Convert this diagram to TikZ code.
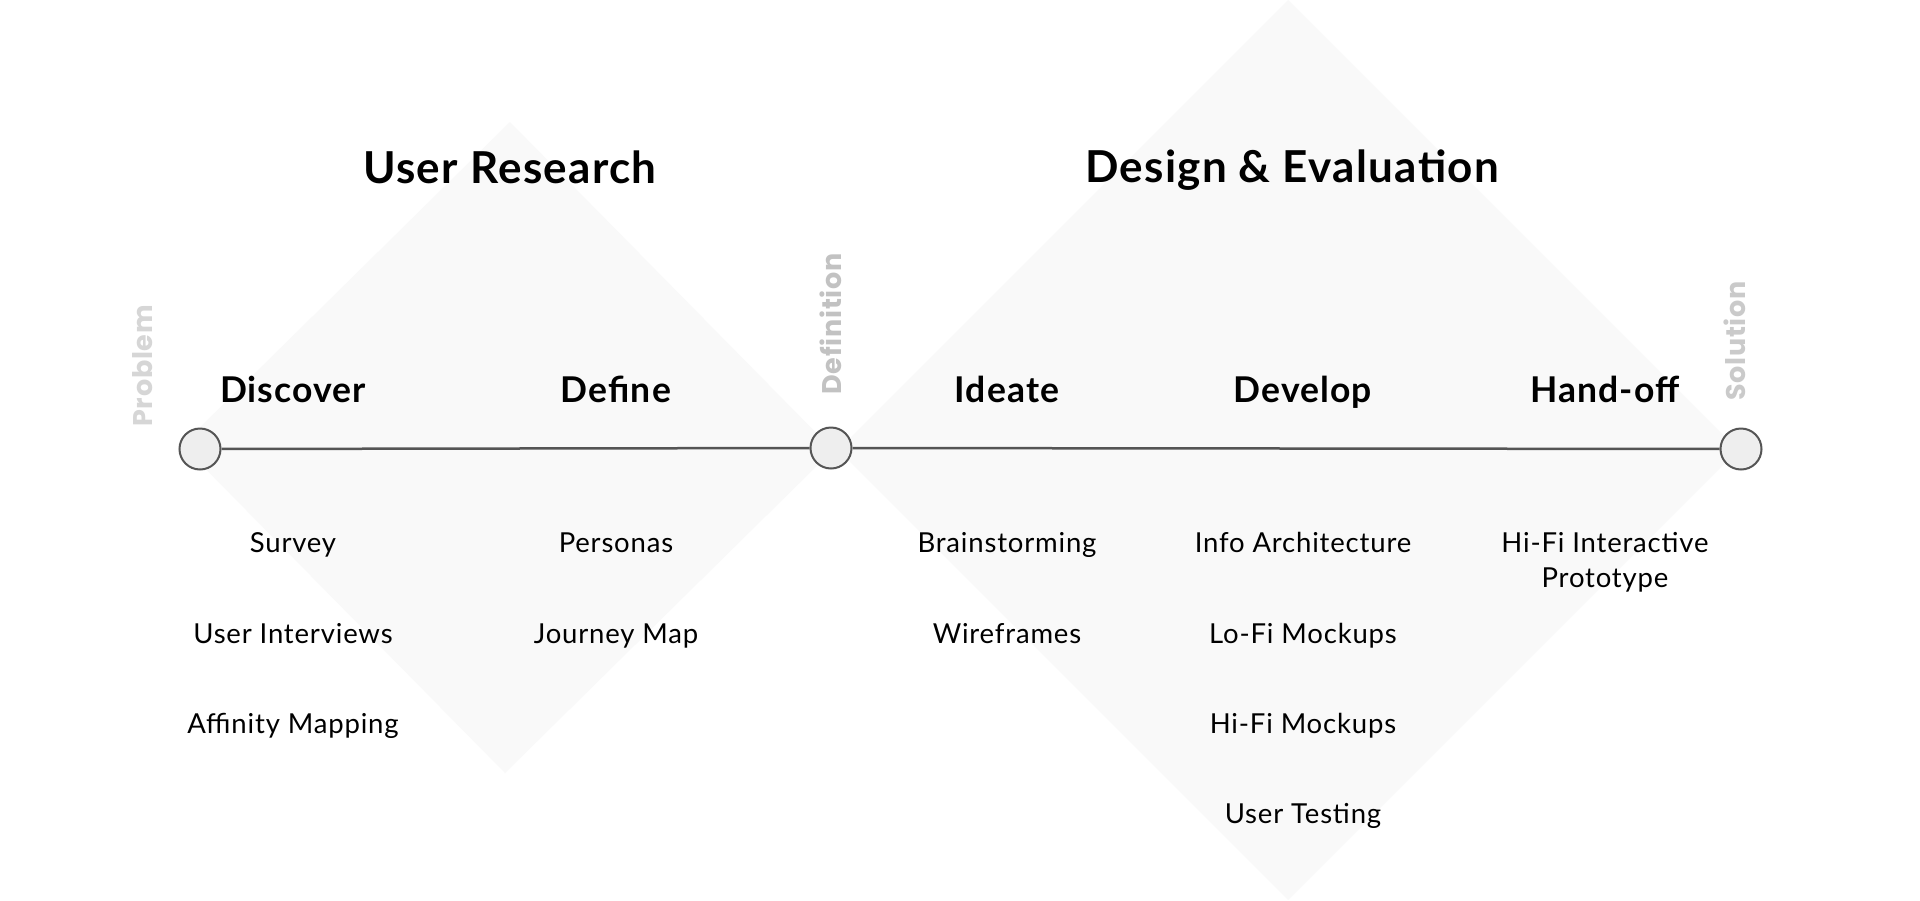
\documentclass[tikz,border=0pt]{standalone}
\usepackage{fontspec}
\setmainfont[LetterSpace=3]{Lato}
\newfontfamily\sidefont[LetterSpace=3]{Poppins}
\definecolor{dfill}{HTML}{F9F9F9}
\definecolor{linec}{HTML}{555555}
\definecolor{circfill}{HTML}{EEEEEE}
\definecolor{sidegrayA}{HTML}{D6D6D6}
\definecolor{sidegrayB}{HTML}{C2C2C2}
\definecolor{sidegrayC}{HTML}{CACACA}
\definecolor{ink}{HTML}{000000}
\begin{document}
\begin{tikzpicture}[x=1pt,y=-1pt,
  diamondfill/.style={fill=dfill},
  title/.style={font=\fontsize{44}{52}\selectfont\bfseries, anchor=base, text=ink, inner sep=0},
  phase/.style={font=\fontsize{35.5}{43}\selectfont\bfseries, anchor=base, text=ink, inner sep=0},
  item/.style={font=\fontsize{27.5}{35}\selectfont, anchor=base, text=ink, inner sep=0, align=center},
  side/.style={font=\sidefont\fontsize{27}{31}\selectfont\bfseries, rotate=90, inner sep=0},
  milestone/.style={circle, draw=linec, fill=circfill, line width=2pt, minimum size=41pt, inner sep=0},
  timeline/.style={draw=linec, line width=2.5pt}
]
\useasboundingbox[fill=white] (0,0) rectangle (1920,900);
% diamonds
\fill[diamondfill] (510,122) -- (833,450) -- (505,773) -- (182,445) -- cycle;
\fill[diamondfill] (1288,0) -- (1738,450) -- (1288,900) -- (838,450) -- cycle;
% milestones
\node[milestone] (m1) at (200,449) {};
\node[milestone] (m2) at (831,448) {};
\node[milestone] (m3) at (1741,449) {};
\draw[timeline] (m1) -- (m2);
\draw[timeline] (m2) -- (m3);
% side labels
\node[side, text=sidegrayA] (sp) at (143,366) {Problem};
\node[side, text=sidegrayB] (sd) at (831,324) {Definition};
\node[side, text=sidegrayC] (ss) at (1735,341) {Solution};
% titles
\node[title] (t1) at (510,183) {User Research};
\node[title] (t2) at (1292,182) {Design \& Evaluation};
% phases
\node[phase] (p1) at (293,402) {Discover};
\node[phase] (p2) at (616,402) {Define};
\node[phase] (p3) at (1007,402) {Ideate};
\node[phase] (p4) at (1303,402) {Develop};
\node[phase] (p5) at (1605,402) {Hand-off};
% items
\node[item] (a1) at (293,552) {Survey};
\node[item] (a2) at (293,643) {User Interviews};
\node[item] (a3) at (293,733) {Affinity Mapping};
\node[item] (b1) at (616,552) {Personas};
\node[item] (b2) at (616,643) {Journey Map};
\node[item] (c1) at (1007,552) {Brainstorming};
\node[item] (c2) at (1007,643) {Wireframes};
\node[item] (d1) at (1303,552) {Info Architecture};
\node[item] (d2) at (1303,643) {Lo-Fi Mockups};
\node[item] (d3) at (1303,733) {Hi-Fi Mockups};
\node[item] (d4) at (1303,823) {User Testing};
\node[item] (e1) at (1605,587) {Hi-Fi Interactive\\Prototype};
\end{tikzpicture}
\end{document}
